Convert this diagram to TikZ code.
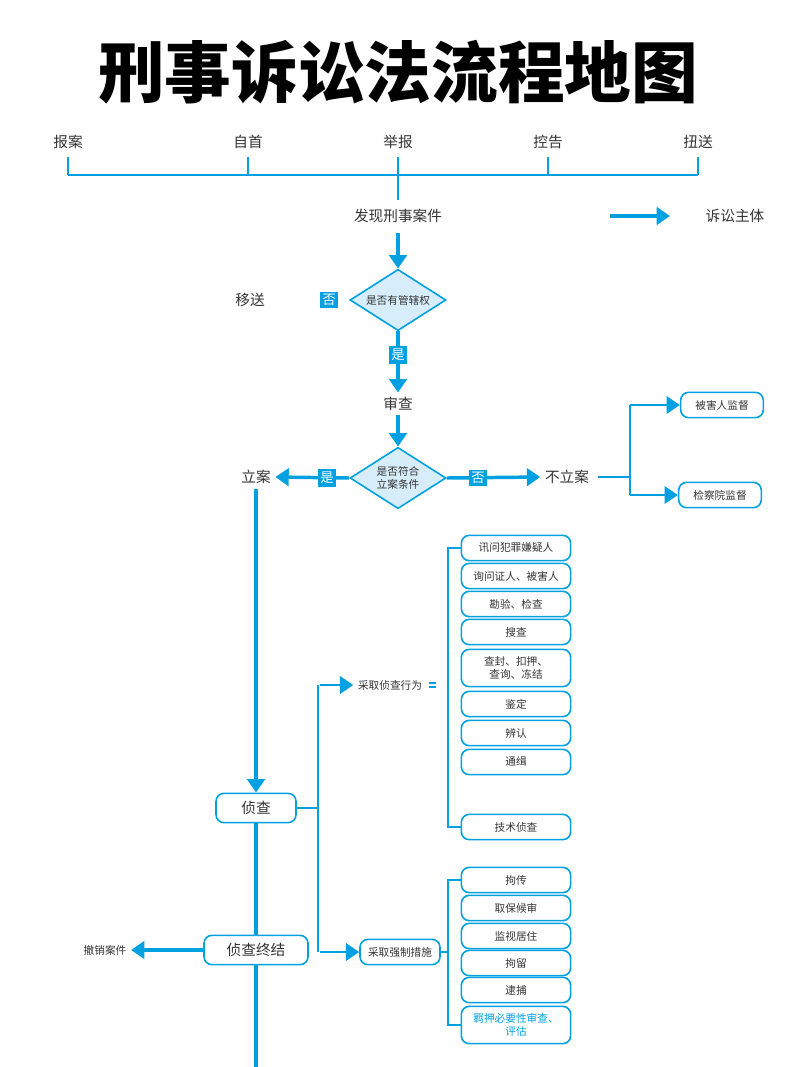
\documentclass[tikz,border=0pt]{standalone}
\usepackage{fontspec}
\setmainfont{Noto Sans CJK SC}
\newfontfamily\cjk{Noto Sans CJK SC}
\usetikzlibrary{arrows.meta,shapes.geometric,positioning}
\definecolor{lawblue}{RGB}{0,160,225}
\definecolor{lawfill}{RGB}{215,238,250}
\tikzset{
  txt/.style={font=\cjk\fontsize{11}{13}\selectfont,text=black!80},
  small/.style={font=\cjk\fontsize{8}{10}\selectfont,text=black!80},
  item/.style={small,draw=lawblue,line width=1.2pt,rounded corners=6pt,minimum width=82pt,minimum height=19pt,inner sep=1pt,align=center},
  dec/.style={diamond,aspect=1.6,draw=lawblue,fill=lawfill,line width=1.2pt,inner sep=0pt,minimum width=72pt,minimum height=46pt,small,align=center},
  tag/.style={fill=lawblue,text=white,font=\cjk\fontsize{10}{12}\selectfont,inner sep=2pt},
  fat/.style={draw=lawblue,line width=2.6pt,-{Triangle[length=10pt,width=13pt]}},
  thin/.style={draw=lawblue,line width=1.4pt},
}
\begin{document}
\begin{tikzpicture}[x=0.75pt,y=-0.75pt]
        \useasboundingbox (0,0) rectangle (800,1067);

        % title
        \node (title) at (398,72) {\cjk\bfseries\fontsize{50}{54}\selectfont 刑事诉讼法流程地图};

        % sources
        \foreach \x/\t [count=\i] in {68/报案,248/自首,398/举报,548/控告,698/扭送}{
          \node[txt] (src\i) at (\x,142) {\t};
          \draw[thin] (\x,157) -- (\x,175);
        }
        \draw[thin] (68,175) -- (698,175);
        \draw[thin] (398,175) -- (398,200);

        % main chain
        \node[txt] (find) at (398,216) {发现刑事案件};
        \coordinate (lg1) at (610,216);
        \coordinate (lg2) at (670,216);
        \draw[fat] (lg1) -- (lg2);
        \node[txt] (legend) at (735,216) {诉讼主体};

        \node[dec] (juris) at (398,300) {是否有管辖权};
        \draw[fat] (find.south) ++(0,5) -- (juris.north);
        \node[tag] (no1) at (329,300) {否};
        \node[txt] (transfer) at (250,300) {移送};

        \node[txt] (review) at (398,404) {审查};
        \draw[fat] (juris.south) -- (review.north);
        \node[tag] (yes1) at (398,355) {是};

        \node[dec] (cond) at (398,478) {是否符合\\立案条件};
        \draw[fat] (review.south) -- (cond.north);

        \node[txt] (file) at (256,477) {立案};
        \draw[fat] (cond.west) -- (file.east);
        \node[tag] (yes2) at (327,478) {是};

        \node[txt] (nofile) at (567,477) {不立案};
        \draw[fat] (cond.east) -- (nofile.west);
        \node[tag] (no2) at (478,478) {否};

        % supervision
        \node[item,minimum width=62pt] (victim) at (722,405) {被害人监督};
        \node[item,minimum width=62pt] (procu) at (720,495) {检察院监督};
        \coordinate (brk) at (630,477);
        \draw[thin] (nofile.east) ++(4,0) -- (brk);
        \draw[thin] (630,405) -- (630,495);
        \draw[fat,line width=2pt] (630,405) -- (victim.west);
        \draw[fat,line width=2pt] (630,495) -- (procu.west);

        % investigation
        \node[item,txt,minimum width=60pt,minimum height=22pt] (inv) at (256,808) {侦查};
        \draw[fat] (file.south) -- (inv.north);
        \node[item,txt,minimum width=78pt,minimum height=22pt] (end) at (256,950) {侦查终结};
        \draw[draw=lawblue,line width=2.6pt] (inv.south) -- (end.north);
        \coordinate (down) at (256,1067);
        \draw[draw=lawblue,line width=2.6pt] (end.south) -- (down);

        \node[small] (cancel) at (105,950) {撤销案件};
        \draw[fat] (end.west) -- (cancel.east);

        \draw[thin] (inv.east) -- (318,808);
        \draw[thin] (318,685) -- (318,952);
        \node[small] (act) at (390,685) {采取侦查行为};
        \draw[fat,line width=2pt] (320,685) -- (act.west);
        \node[item,minimum width=60pt] (force) at (400,952) {采取强制措施};
        \draw[fat,line width=2pt] (320,952) -- (force.west);

        % investigative acts
        \foreach \y/\t [count=\i] in {548/讯问犯罪嫌疑人,576/询问证人、被害人,604/勘验、检查,632/搜查,704/鉴定,733/辨认,762/通缉,827/技术侦查}{
          \node[item] (act\i) at (516,\y) {\t};
        }
        \node[item,minimum height=28pt] (seal) at (516,668) {查封、扣押、\\查询、冻结};
        \draw[thin] (act.east) ++(2,-2) -- ++(7,0);
        \draw[thin] (act.east) ++(2,2) -- ++(7,0);
        \draw[thin] (act1.west) -| (448,685) |- (act8.west);

        % compulsory measures
        \foreach \y/\t [count=\i] in {880/拘传,908/取保候审,936/监视居住,963/拘留,990/逮捕}{
          \node[item] (cm\i) at (516,\y) {\t};
        }
        \node[item,minimum height=28pt,text=lawblue] (cm6) at (516,1025) {羁押必要性审查、\\评估};
        \draw[thin] (force.east) -- (448,952);
        \draw[thin] (cm1.west) -| (448,952) |- (cm6.west);
\end{tikzpicture}
\end{document}
